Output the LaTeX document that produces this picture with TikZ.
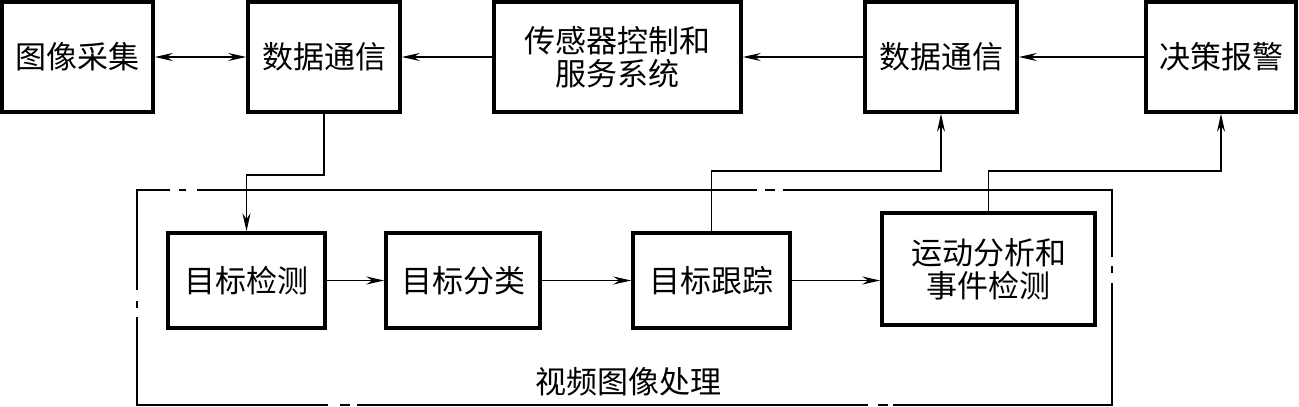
\documentclass[tikz,border=0pt]{standalone}
\usepackage{fontspec}
\newfontfamily\cjk{Noto Sans CJK SC}
\usetikzlibrary{arrows.meta,calc}
\begin{document}
\begin{tikzpicture}[x=1pt,y=-1pt,
  box/.style={draw,line width=3.5pt,align=center,inner sep=0pt,
    font=\cjk\fontsize{31}{33}\selectfont},
  conn/.style={line width=1.6pt,-{Stealth[length=18pt,width=8pt,inset=6pt]}},
  dconn/.style={line width=1.6pt,{Stealth[length=18pt,width=8pt,inset=6pt]}-{Stealth[length=18pt,width=8pt,inset=6pt]}},
  frame/.style={line width=1.6pt}]
\useasboundingbox (0,0) rectangle (1299,407);
% top row
\node[box,minimum width=151pt,minimum height=110pt] (A) at (77.5,57) {图像采集};
\node[box,minimum width=152pt,minimum height=110pt] (B) at (324,57) {数据通信};
\node[box,minimum width=247pt,minimum height=110pt] (C) at (617.5,57) {传感器控制和\\服务系统};
\node[box,minimum width=152pt,minimum height=110pt] (D) at (941,57) {数据通信};
\node[box,minimum width=150pt,minimum height=110pt] (E) at (1221,57) {决策报警};
% bottom row
\node[box,minimum width=157pt,minimum height=95pt] (DT) at (246.5,280.5) {目标检测};
\node[box,minimum width=154pt,minimum height=95pt] (CL) at (463,280.5) {目标分类};
\node[box,minimum width=157pt,minimum height=95pt] (TK) at (711.5,280.5) {目标跟踪};
\node[box,minimum width=213pt,minimum height=112pt] (MA) at (988.5,269) {运动分析和\\事件检测};
\node[font=\cjk\fontsize{31}{33}\selectfont] (LB) at (628,382) {视频图像处理};
% frame
\draw[frame] (137,290) -- (137,190) -- (170,190);
\draw[frame] (179,190) -- (186,190);
\draw[frame] (197,190) -- (757,190);
\draw[frame] (765,190) -- (775,190);
\draw[frame] (783,190) -- (1112,190) -- (1112,257);
\draw[frame] (1112,266) -- (1112,273);
\draw[frame] (1112,283) -- (1112,405) -- (893,405);
\draw[frame] (888,405) -- (878,405);
\draw[frame] (868,405) -- (357,405);
\draw[frame] (350,405) -- (340,405);
\draw[frame] (328,405) -- (137,405) -- (137,317);
\draw[frame] (137,308) -- (137,301);
% connectors top row
\draw[dconn] (A.east) -- (B.west);
\draw[conn] (C.west) -- (B.east);
\draw[conn] (D.west) -- (C.east);
\draw[conn] (E.west) -- (D.east);
% bottom connectors
\draw[conn] (DT.east) -- (CL.west);
\draw[conn] (CL.east) -- (TK.west);
\draw[conn] (TK.east) -- (TK.east -| MA.west);
% vertical links
\draw[conn] (B.south) -- ++(0,61) -| (DT.north);
\draw[conn] (TK.north) -- ++(0,-60) -| (D.south);
\draw[conn] (MA.north) -- ++(0,-40) -| (E.south);
\end{tikzpicture}
\end{document}
